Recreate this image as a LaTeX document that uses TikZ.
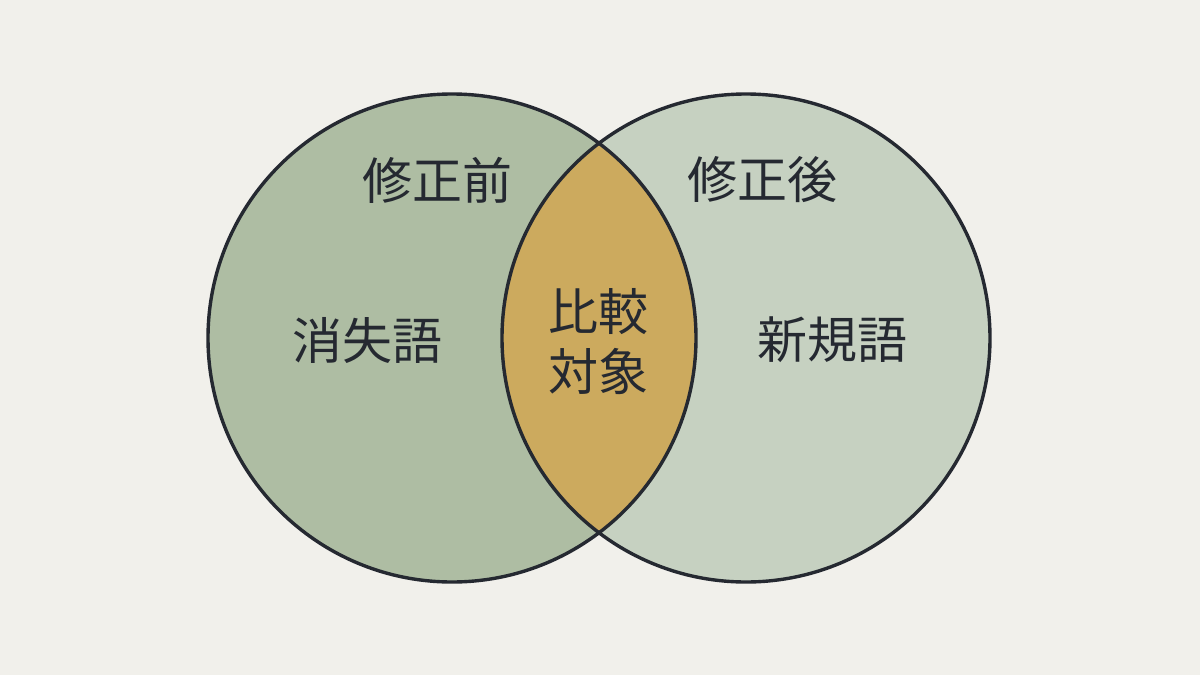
\documentclass[tikz,border=0pt]{standalone}
\usepackage{fontspec}
\newfontfamily\jpfont{Noto Sans CJK JP}
\definecolor{paper}{HTML}{F1F0EB}
\definecolor{oldgreen}{HTML}{AEBDA3}
\definecolor{newgreen}{HTML}{C6D1C1}
\definecolor{lensgold}{HTML}{CCAA5E}
\definecolor{ink}{HTML}{252931}
\begin{document}
\begin{tikzpicture}[
    x=1pt,y=-1pt,
    setline/.style={
        draw=ink,
        line width=3.4pt,
    },
    setlabel/.style={
        text=ink,
        inner sep=0pt,
        align=center,
        font=\jpfont\fontsize{50}{60}\selectfont,
    },
]

    \fill[paper] (0,0) rectangle (1200,675);

    \coordinate (before) at (452,338);
    \coordinate (after)  at (746,338);

    \fill[oldgreen] (before) circle[radius=244pt];
    \fill[newgreen] (after)  circle[radius=244pt];
    \begin{scope}
        \clip (before) circle[radius=244pt];
        \fill[lensgold] (after) circle[radius=244pt];
    \end{scope}

    \draw[setline] (before) circle[radius=244pt];
    \draw[setline] (after)  circle[radius=244pt];

    \node[setlabel] (tbefore) at (437,180) {修正前};
    \node[setlabel] (tafter)  at (762,180) {修正後};
    \node[setlabel] (lost)    at (367,340) {消失語};
    \node[setlabel] (added)   at (832,340) {新規語};
    \node[setlabel] (common)  at (598,342) {比較\\対象};

\end{tikzpicture}
\end{document}
